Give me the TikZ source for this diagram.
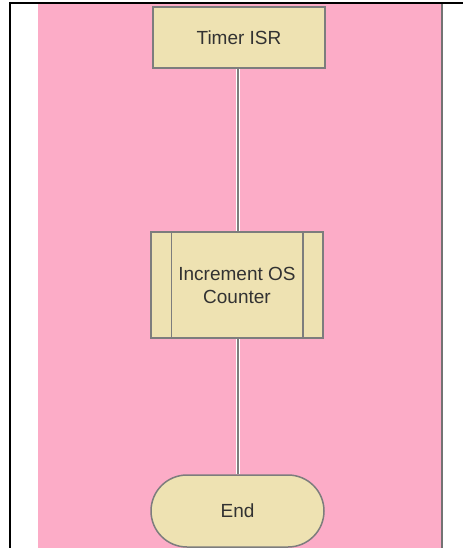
\documentclass[tikz,border=0pt]{standalone}
\usepackage{fontspec}
\setmainfont{Liberation Sans}
\usetikzlibrary{shapes.misc}
\definecolor{lanepink}{RGB}{252,172,199}
\definecolor{boxfill}{RGB}{238,226,178}
\definecolor{boxedge}{RGB}{125,125,125}
\definecolor{labeltext}{RGB}{50,50,50}
\tikzset{
  flowbox/.style={draw=boxedge, line width=1.5pt, fill=boxfill,
    text=labeltext, font=\fontsize{19}{23}\selectfont, align=center,
    inner sep=0pt},
  procbox/.style={flowbox, rectangle, minimum width=172pt, minimum height=61pt},
  subprocbox/.style={flowbox, rectangle, minimum width=172pt, minimum height=106pt,
    append after command={
      \pgfextra{\let\subnode\tikzlastnode}
      ([xshift=21pt]\subnode.north west) edge[draw=boxedge, line width=1.5pt]
      ([xshift=21pt]\subnode.south west)
      ([xshift=-21pt]\subnode.north east) edge[draw=boxedge, line width=1.5pt]
      ([xshift=-21pt]\subnode.south east)}},
  termbox/.style={flowbox, rounded rectangle, minimum width=173pt, minimum height=72pt},
  flowline/.style={draw=white, double=boxedge, double distance=1.3pt, line width=0.9pt}
}
\begin{document}
\begin{tikzpicture}[x=1pt, y=-1pt]
  \useasboundingbox (0,0) rectangle (463,548);
  % page and swimlane background
  \fill[white] (0,0) rectangle (463,548);
  \fill[lanepink] (38,4) rectangle (441,548);
  \draw[black!55, line width=1.6pt] (441.8,4) -- (441.8,548);
  \draw[black, line width=2pt] (10,3) -- (463,3);
  \draw[black, line width=2pt] (10,2) -- (10,548);

  % flowchart nodes
  \node[procbox] (isr) at (239,37.5) {Timer ISR};
  \node[subprocbox] (inc) at (237,285) {Increment OS\\Counter};
  \node[termbox] (end) at (237.5,511) {End};

  % connectors
  \draw[flowline] (isr.south -| 238,0) -- (inc.north -| 238,0);
  \draw[flowline] (inc.south -| 238,0) -- (end.north -| 238,0);
\end{tikzpicture}
\end{document}
